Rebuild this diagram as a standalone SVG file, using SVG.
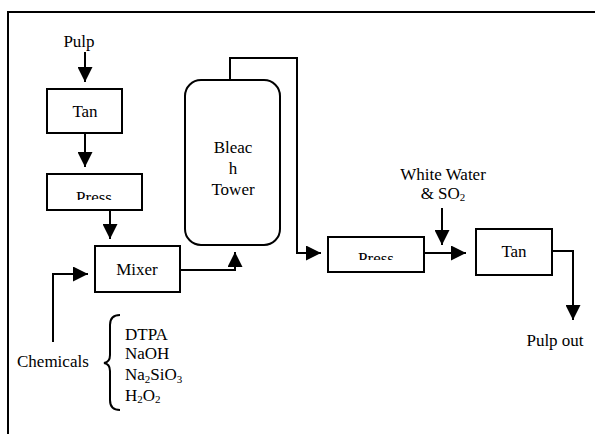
<svg xmlns="http://www.w3.org/2000/svg" width="595" height="434" viewBox="0 0 595 434">
<style>
.box{fill:#fff;stroke:#000;stroke-width:2}
.ln{fill:none;stroke:#000;stroke-width:2}
text{font-family:"Liberation Serif","Times New Roman",serif;font-size:17px;fill:#000}
.c{text-anchor:middle}
</style>
<defs>
<marker id="ah" viewBox="0 0 10 10" refX="10" refY="5" markerWidth="7.5" markerHeight="7.5" markerUnits="strokeWidth" orient="auto">
<path d="M0,0 L10,5 L0,10 Z" fill="#000"/>
</marker>
<clipPath id="cp1"><rect x="47" y="170" width="95" height="30"/></clipPath>
<clipPath id="cp2"><rect x="328" y="235" width="96" height="25"/></clipPath>
</defs>
<rect x="8" y="12" width="600" height="430" fill="none" stroke="#000" stroke-width="2"/>
<g id="connectors">
<path class="ln" d="M85,52 L85,82" marker-end="url(#ah)"/>
<path class="ln" d="M85,133 L85,167" marker-end="url(#ah)"/>
<path class="ln" d="M110,210 L110,239" marker-end="url(#ah)"/>
<path class="ln" d="M53,342 L53,274 L88,274" marker-end="url(#ah)"/>
<path class="ln" d="M180,270 L235,270 L235,252" marker-end="url(#ah)"/>
<path class="ln" d="M230,80 L230,58 L297,58 L297,253 L321,253" marker-end="url(#ah)"/>
<path class="ln" d="M424,253 L466,253" marker-end="url(#ah)"/>
<path class="ln" d="M442,208 L442,245" marker-end="url(#ah)"/>
<path class="ln" d="M552,251 L573,251 L573,320" marker-end="url(#ah)"/>
<path class="ln" d="M120,315 Q110,315 110,325 L110,355 Q110,362 104,363 Q110,364 110,371 L110,400 Q110,410 120,410"/>
</g>
<text x="79" y="47" class="c">Pulp</text>
<g id="tan1">
<rect class="box" x="47" y="89" width="75" height="44"/>
<text x="85" y="117" class="c">Tan</text>
</g>
<g id="press1">
<rect class="box" x="47" y="174" width="95" height="36"/>
<text x="94" y="203" class="c" clip-path="url(#cp1)">Press</text>
</g>
<g id="mixer">
<rect class="box" x="95" y="246" width="85" height="46"/>
<text x="137" y="275" class="c">Mixer</text>
</g>
<g id="tower">
<rect class="box" x="185" y="80" width="95" height="165" rx="16" ry="16"/>
<text x="233" y="153" class="c">Bleac</text>
<text x="233" y="174" class="c">h</text>
<text x="233" y="195" class="c">Tower</text>
</g>
<g id="press2">
<rect class="box" x="328" y="237" width="96" height="35"/>
<text x="376" y="264" class="c" clip-path="url(#cp2)">Press</text>
</g>
<g id="tan2">
<rect class="box" x="476" y="229" width="76" height="46"/>
<text x="514" y="257" class="c">Tan</text>
</g>
<text x="443" y="180" class="c">White Water</text>
<text x="443" y="199" class="c">&amp; SO<tspan font-size="11" dy="2">2</tspan></text>
<text x="555" y="346" class="c">Pulp out</text>
<text x="17" y="367">Chemicals</text>
<text x="125" y="340">DTPA</text>
<text x="125" y="359">NaOH</text>
<text x="125" y="380">Na<tspan font-size="11" dy="3">2</tspan><tspan dy="-3">SiO</tspan><tspan font-size="11" dy="3">3</tspan></text>
<text x="125" y="401">H<tspan font-size="11" dy="2">2</tspan><tspan dy="-2">O</tspan><tspan font-size="11" dy="2">2</tspan></text>
</svg>
